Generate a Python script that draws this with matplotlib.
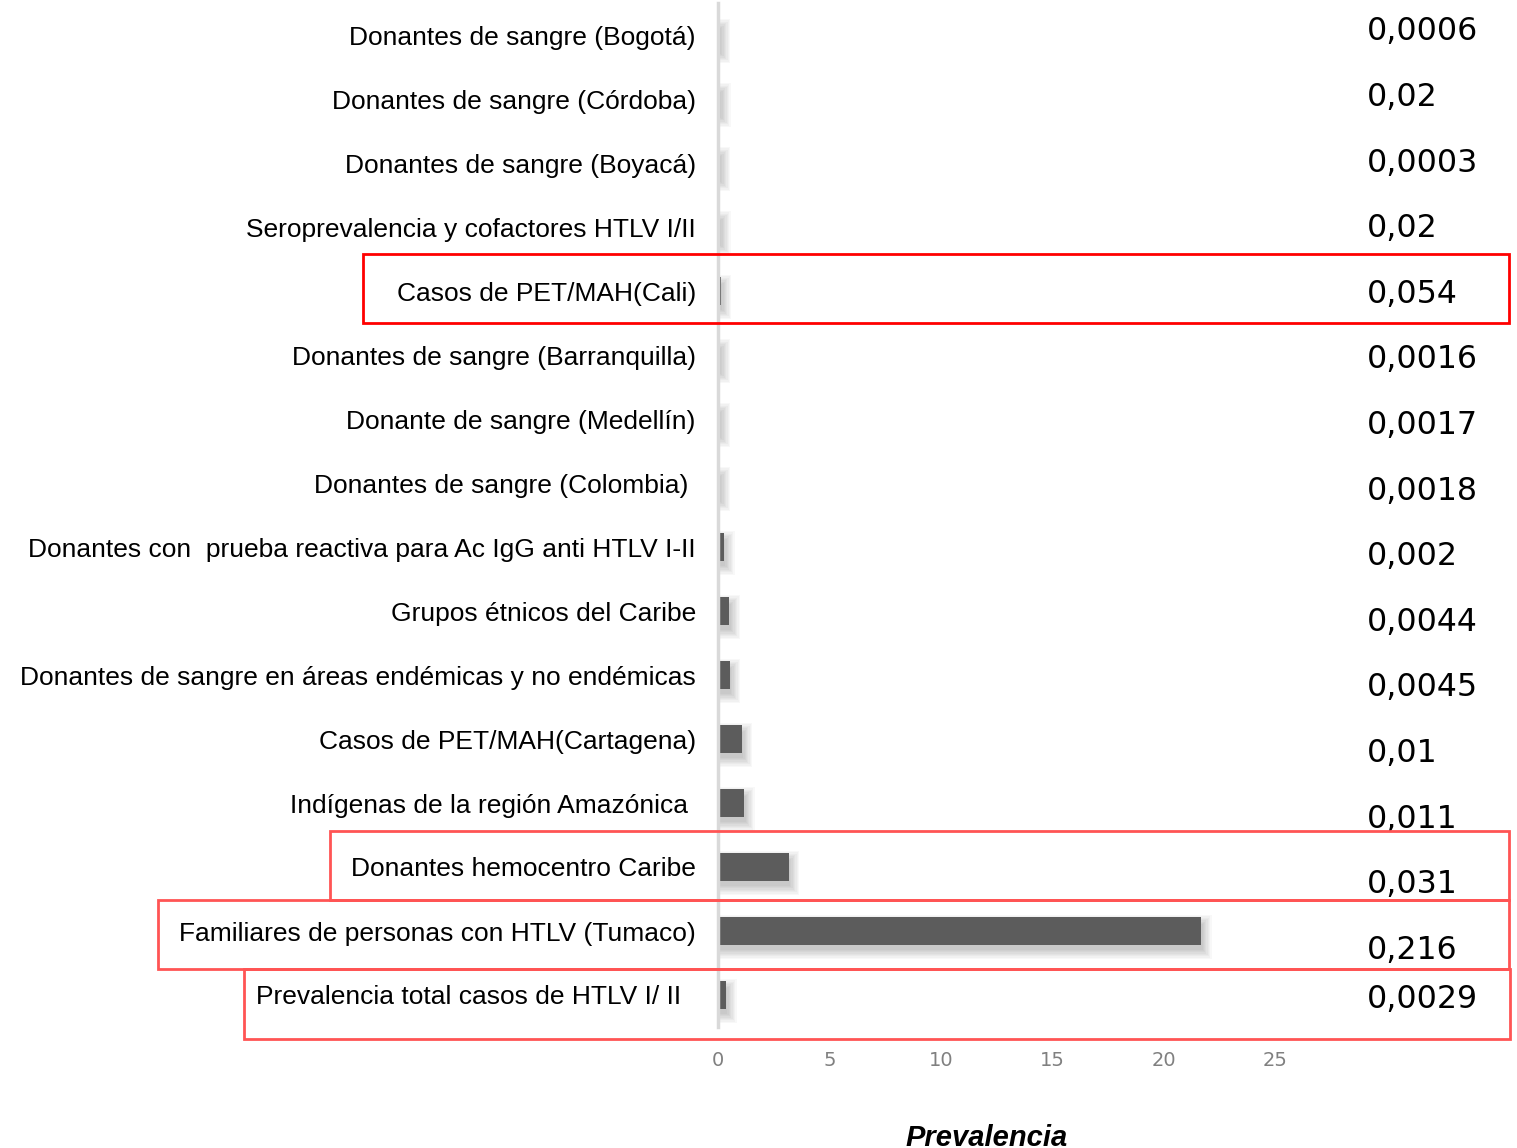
import numpy as np
import matplotlib.pyplot as plt
from matplotlib.patches import Rectangle

categorias = [
    "Donantes de sangre (Bogotá)",
    "Donantes de sangre (Córdoba)",
    "Donantes de sangre (Boyacá)",
    "Seroprevalencia y cofactores HTLV I/II",
    "Casos de PET/MAH(Cali)",
    "Donantes de sangre (Barranquilla)",
    "Donante de sangre (Medellín)",
    "Donantes de sangre (Colombia) ",
    "Donantes con  prueba reactiva para Ac IgG anti HTLV I-II",
    "Grupos étnicos del Caribe",
    "Donantes de sangre en áreas endémicas y no endémicas",
    "Casos de PET/MAH(Cartagena)",
    "Indígenas de la región Amazónica ",
    "Donantes hemocentro Caribe",
    "Familiares de personas con HTLV (Tumaco)",
    "Prevalencia total casos de HTLV I/ II  ",
]
prevalencia = [0.0006, 0.02, 0.0003, 0.02, 0.054, 0.0016, 0.0017, 0.0018,
               0.002, 0.0044, 0.0045, 0.01, 0.011, 0.031, 0.216, 0.0029]
etiquetas = ["0,0006", "0,02", "0,0003", "0,02", "0,054", "0,0016", "0,0017", "0,0018",
             "0,002", "0,0044", "0,0045", "0,01", "0,011", "0,031", "0,216", "0,0029"]
# the first eight rows were typed as fractions, the rest as percentages
en_porcentaje = [False] * 8 + [True] * 8
destacados = [4, 13, 14, 15]

W, H = 1517, 1148
fig = plt.figure(figsize=(W / 100, H / 100), dpi=100)
ax = fig.add_axes([718 / W, (H - 1027) / H, (1340 - 718) / W, 1024 / H])

y = np.arange(len(categorias))
largo = np.array([v * 100 if p else v for v, p in zip(prevalencia, en_porcentaje)])

# soft shadow under each bar
px_x = 1 / 22.3
px_y = 1 / 64
for k in range(8):
    s = k * 1.3
    ax.barh(y + 6 * px_y, largo + (3 + s) * px_x, height=0.40 + 2 * s * px_y,
            left=0, color="black", alpha=0.028, linewidth=0, zorder=1)
ax.barh(y, largo, height=0.45, left=1.5 * px_x, color="#5c5c5c", linewidth=0, zorder=2)

ax.set_ylim(len(categorias) - 0.5, -0.5)
ax.set_xlim(0, 27.9)
ax.set_xticks([0, 5, 10, 15, 20, 25])
ax.set_yticks(y)
ax.set_yticklabels(categorias, family="Liberation Sans", fontsize=19, color="black")
ax.tick_params(axis="y", length=0, pad=16)
ax.tick_params(axis="x", length=0, pad=17, labelsize=14, labelcolor="#808080")
for side in ["top", "right", "bottom"]:
    ax.spines[side].set_visible(False)
ax.spines["left"].set_color("#d9d9d9")
ax.spines["left"].set_linewidth(2.5)

# value column on the right
for i, txt in enumerate(etiquetas):
    ypx = 32 + 65.6 * i if i < 15 else 1000
    fig.text(1367 / W, (H - ypx) / H, txt, fontsize=22.8, family="DejaVu Sans",
             color="black", va="center", ha="left")

# boxes around the highlighted rows
cajas = {4: (363, 254, 1509, 323, "#ff0000"),
         13: (330, 831, 1509, 900, "#ff5454"),
         14: (158, 900, 1509, 969, "#ff5454"),
         15: (244, 969, 1510, 1039, "#ff5454")}
for i in destacados:
    x0, y0, x1, y1, c = cajas[i]
    fig.patches.append(Rectangle((x0 / W, (H - y1) / H), (x1 - x0) / W, (y1 - y0) / H,
                                 transform=fig.transFigure, fill=False,
                                 edgecolor=c, linewidth=2, zorder=5))

fig.text(987 / W, (H - 1124) / H, "Prevalencia", fontsize=21, style="italic",
         fontweight="bold", family="Liberation Sans", ha="center", va="top")

fig.savefig("out.png", dpi=100)
